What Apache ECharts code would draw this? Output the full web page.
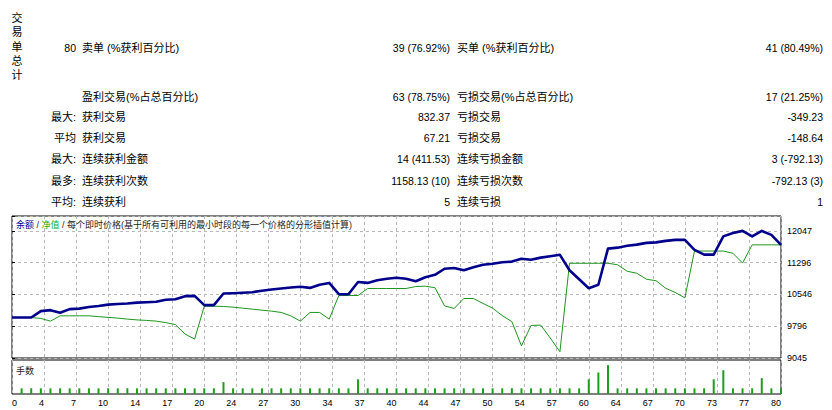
<!DOCTYPE html>
<html><head><meta charset="utf-8">
<script src="https://cdn.jsdelivr.net/npm/echarts@6/dist/echarts.min.js"></script>
<style>html,body{margin:0;padding:0;background:#fff}#c{width:832px;height:410px}</style>
</head><body><div id="c"></div>
<script>
// ---------- data ----------
const trades = [0,1,2,3,4,5,6,7,8,9,10,11,12,13,14,15,16,17,18,19,20,21,22,23,24,25,26,27,28,29,30,31,32,33,34,35,36,37,38,39,40,41,42,43,44,45,46,47,48,49,50,51,52,53,54,55,56,57,58,59,60,61,62,63,64,65,66,67,68,69,70,71,72,73,74,75,76,77,78,79,80];
const balance = [10000,10000,10000,10151,10174,10111,10198,10210,10250,10273,
  10304,10320,10332,10351,10362,10374,10421,10433,10504,10511,
  10292,10292,10567,10574,10586,10598,10633,10661,10685,10708,
  10727,10699,10774,10817,10551,10551,10840,10817,10880,10915,
  10939,10915,10857,10951,11009,11151,11169,11115,11186,11245,
  11268,11303,11320,11386,11362,11414,11445,11480,11115,10904,
  10692,10774,11626,11649,11692,11720,11762,11774,11809,11833,
  11833,11598,11485,11485,11915,11993,12045,11915,12045,11950,
  11715];
const equity = [10000,10000,10000,9979,9915,10040,10040,10040,10040,10021,
  10003,9986,9963,9944,9932,9915,9880,9833,9610,9492,
  10268,10268,10261,10245,10221,10198,10174,10151,10120,10040,
  9915,10120,10120,9963,10520,10520,10520,10685,10685,10685,
  10685,10685,10732,10739,10704,10275,10214,10449,10449,10332,
  10221,10045,9904,9332,9814,9821,9516,9193,11280,11280,
  11280,11280,11280,11245,11092,11045,10904,10868,10692,10591,
  10464,11569,11569,11569,11569,11515,11287,11715,11715,11715,
  11715];
const volTrades = [1,2,3,4,5,6,7,8,9,10,11,12,13,14,15,16,17,18,19,20,21,22,23,24,25,26,27,28,29,30,31,32,33,34,35,36,37,38,39,40,41,42,43,44,45,46,47,48,49,50,51,52,53,54,55,56,57,58,59,60,61,62,63,64,65,66,67,68,69,70,71,72,73,74,75,76,77,78,79,80];
const volumes = [0.1,0.1,0.1,0.1,0.1,0.1,0.1,0.1,0.1,0.1,
  0.1,0.1,0.1,0.1,0.1,0.1,0.1,0.1,0.1,0.1,
  0.1,0.21,0.1,0.1,0.1,0.1,0.1,0.1,0.1,0.1,
  0.1,0.1,0.1,0.1,0.1,0.26,0.1,0.1,0.1,0.1,
  0.1,0.1,0.1,0.1,0.1,0.1,0.1,0.1,0.1,0.1,
  0.1,0.1,0.1,0.1,0.1,0.1,0.1,0.1,0.1,0.26,
  0.38,0.51,0.1,0.1,0.1,0.1,0.1,0.1,0.1,0.1,
  0.1,0.1,0.26,0.42,0.1,0.1,0.1,0.28,0.1,0.1];
const xTickLabels = ['0','4','7','10','14','17','20','24','27','30','34','37','40','44','47','50','54','57','60','64','67','70','73','77','80'];
const yTickLabels = ['9045','9796','10546','11296','12047'];
const yTickStep = 750.5;

const sideTitle = '交易单总计';
const rowLead = ['80', '', '最大:', '平均', '最大:', '最多:', '平均:'];
const names1 = ['卖单 (%获利百分比)', '盈利交易(%占总百分比)', '获利交易', '获利交易', '连续获利金额', '连续获利次数', '连续获利'];
const values1 = ['39 (76.92%)', '63 (78.75%)', '832.37', '67.21', '14 (411.53)', '1158.13 (10)', '5'];
const names2 = ['买单 (%获利百分比)', '亏损交易(%占总百分比)', '亏损交易', '亏损交易', '连续亏损金额', '连续亏损次数', '连续亏损'];
const values2 = ['41 (80.49%)', '17 (21.25%)', '-349.23', '-148.64', '3 (-792.13)', '-792.13 (3)', '1'];
const chartTitleBalance = '余额';
const chartTitleEquity = '净值';
const chartTitleRest = '每个即时价格(基于所有可利用的最小时段的每一个价格的分形插值计算)';
const volTitle = '手数';

// ---------- layout ----------
const fontCJK = '11px "Liberation Sans","Noto Sans CJK SC",sans-serif';
const fontNum = '10.5px "Liberation Sans",sans-serif';
const fontSmall = '9px "Liberation Sans","Noto Sans CJK SC",sans-serif';
const rowY = [48, 96.5, 117, 138, 159, 180.5, 201.5];
const gridSteps = 4.465;
const dash = {type:[3,3], color:'#b8b8b8', width:1};

const graphics = [];
graphics.push({type:'text', x:17, y:11, style:{text: sideTitle.split('').join('\n'), font:fontCJK, fill:'#000', align:'center', verticalAlign:'top', lineHeight:14.3}});
rowY.forEach((y, i) => {
  graphics.push({type:'text', x:76, y:y, style:{text:rowLead[i], font:/\d/.test(rowLead[i])?fontNum:fontCJK, fill:'#000', align:'right', verticalAlign:'middle'}});
  graphics.push({type:'text', x:82, y:y, style:{text:names1[i], font:fontCJK, fill:'#000', align:'left', verticalAlign:'middle'}});
  graphics.push({type:'text', x:450, y:y, style:{text:values1[i], font:fontNum, fill:'#000', align:'right', verticalAlign:'middle'}});
  graphics.push({type:'text', x:457, y:y, style:{text:names2[i], font:fontCJK, fill:'#000', align:'left', verticalAlign:'middle'}});
  graphics.push({type:'text', x:823, y:y, style:{text:values2[i], font:fontNum, fill:'#000', align:'right', verticalAlign:'middle'}});
});
graphics.push({type:'text', x:16, y:225, z:100, style:{
  text:'{b|' + chartTitleBalance + '}{k| / }{g|' + chartTitleEquity + '}{k| / ' + chartTitleRest + '}',
  font:fontSmall, align:'left', verticalAlign:'middle',
  rich:{b:{fill:'#0000a0', font:fontSmall}, g:{fill:'#10b010', font:fontSmall}, k:{fill:'#222', font:fontSmall}}
}});
graphics.push({type:'text', x:16, y:370.5, z:100, style:{text:volTitle, font:fontSmall, fill:'#222', align:'left', verticalAlign:'middle'}});

const chart = echarts.init(document.getElementById('c'), null, {renderer:'svg'});
chart.setOption({
  animation:false,
  backgroundColor:'#fff',
  grid:[
    {left:12, top:216, width:769, height:142, show:true, borderColor:'#000', borderWidth:1, backgroundColor:'#fff'},
    {left:12, top:360, width:769, height:34, show:true, borderColor:'#000', borderWidth:1, backgroundColor:'#fff'}
  ],
  xAxis:[
    {gridIndex:0, type:'value', min:0, max:xTickLabels.length-1, interval:1, axisLine:{show:false}, axisTick:{show:false}, axisLabel:{show:false}, splitLine:{show:true, lineStyle:dash}},
    {gridIndex:0, type:'value', min:trades[0], max:trades[trades.length-1], show:false},
    {gridIndex:1, type:'value', min:0, max:xTickLabels.length-1, interval:1, axisLine:{show:false}, axisTick:{show:false},
      axisLabel:{show:true, formatter:v => xTickLabels[Math.round(v)] || '', align:'right', alignMinLabel:'left', margin:4, fontSize:9, fontFamily:'"Liberation Sans",sans-serif', color:'#000'},
      splitLine:{show:true, lineStyle:dash}},
    {gridIndex:1, type:'value', min:trades[0], max:trades[trades.length-1], show:false}
  ],
  yAxis:[
    {gridIndex:0, type:'value', position:'right', min:0, max:gridSteps, interval:1, axisLine:{show:false},
      axisTick:{show:true, length:3, lineStyle:{color:'#000'}},
      axisLabel:{formatter:v => (Math.abs(v-Math.round(v))<1e-6 ? (yTickLabels[Math.round(v)]||'') : ''), margin:6, fontSize:9, fontFamily:'"Liberation Sans",sans-serif', color:'#000'},
      splitLine:{show:true, lineStyle:dash}},
    {gridIndex:0, type:'value', min:Number(yTickLabels[0]), max:Number(yTickLabels[0]) + gridSteps*yTickStep, show:false},
    {gridIndex:1, type:'value', min:0, max:0.6, show:false}
  ],
  graphic:graphics,
  series:[
    {type:'line', name:'净值', xAxisIndex:1, yAxisIndex:1, z:3, showSymbol:false, silent:true,
      data:trades.map((t,i)=>[t, equity[i]]), lineStyle:{color:'#1e961e', width:1}},
    {type:'line', name:'余额', xAxisIndex:1, yAxisIndex:1, z:4, showSymbol:false, silent:true,
      data:trades.map((t,i)=>[t, balance[i]]), lineStyle:{color:'#00008c', width:2.6, join:'round'}},
    {type:'bar', name:'手数', xAxisIndex:3, yAxisIndex:2, barWidth:2, silent:true,
      data:volTrades.map((t,i)=>[t, volumes[i]]), itemStyle:{color:'#1e9e1e'}}
  ]
});
</script></body></html>
